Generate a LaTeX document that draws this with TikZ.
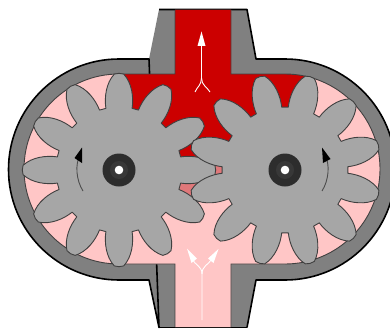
\documentclass[tikz,border=0pt]{standalone}
\definecolor{casinggray}{RGB}{128,128,128}
\definecolor{gearfill}{RGB}{166,166,166}
\definecolor{hotred}{RGB}{204,0,0}
\definecolor{lowpink}{RGB}{255,198,198}
\definecolor{midpink}{RGB}{224,120,122}
\definecolor{hubdark}{RGB}{45,45,45}
\definecolor{hubring}{RGB}{56,56,56}
\tikzset{
  casingedge/.style={draw=black,line width=1.6pt,line join=round},
  gearbody/.style={fill=gearfill,draw=black!75,line width=0.9pt,line join=round},
  spinline/.style={draw=black!70,line width=0.9pt},
  flowline/.style={draw=white,line width=0.9pt},
}
\newcommand{\gearat}[3]{% cx, cy, phase
  \begin{scope}[shift={(#1,#2)}]
    \path[gearbody] (#3-12:63)
      \foreach \t in {0,...,11}{
        .. controls ({#3+\t*30-11.5}:74) and ({#3+\t*30-8.5}:88) .. ({#3+\t*30-2.8}:96)
        .. controls ({#3+\t*30-1}:97) and ({#3+\t*30+1}:97) .. ({#3+\t*30+2.8}:96)
        .. controls ({#3+\t*30+8.5}:88) and ({#3+\t*30+11.5}:74) .. ({#3+\t*30+12}:63)
        -- ({#3+\t*30+18}:63)
      } -- cycle;
    \fill[hubdark] (0,0) circle (16.5);
    \fill[hubring] (0,0) circle (9);
    \fill[white] (0,0) circle (4.3);
  \end{scope}}
\begin{document}
\begin{tikzpicture}[x=1pt,y=-1pt]
\useasboundingbox (0,0) rectangle (390,329);
\clip (0,0) rectangle (390,329);
\fill[white] (0,0) rectangle (390,329);
% casing
\fill[casinggray] (159,9.5) -- (247,9.5) -- (256,59) -- (285,59) arc (-90:90:110.5) -- (256,280) -- (247,327.5) -- (159,327.5) -- (149,280) -- (119,280) arc (-270:-90:110.5) -- (149,59) -- cycle;
\draw[casingedge] (159,9.5) -- (247,9.5) -- (256,59) -- (285,59) arc (-90:90:110.5) -- (256,280) -- (247,327.5);
\draw[casingedge] (159,327.5) -- (149,280) -- (119,280) arc (-270:-90:110.5) -- (149,59) -- cycle;
\draw[black,line width=1.6pt] (159,327.5) -- (247,327.5);
% chamber
\begin{scope}
  \path[clip] (175,10) -- (231,10) -- (231,74) -- (285,74) arc (-90:90:95) -- (231,264) -- (231,327) -- (175,327) -- (175,264) -- (119,264) arc (-270:-90:95) -- (175,74) -- cycle;
  \fill[lowpink] (0,0) rectangle (390,329);
  \fill[hotred] (119,161) -- (119,70) -- (175,70) -- (175,5) -- (231,5) -- (231,70) -- (311,70) -- (285,161) -- cycle;
  \fill[midpink] (170,161) rectangle (240,196);
\end{scope}
\draw[black!75,line width=0.9pt] (175,10) -- (175,74) -- (119,74) arc (-90:-270:95) -- (175,264) -- (175,327);
\draw[black!75,line width=0.9pt] (231,10) -- (231,74) -- (285,74) arc (-90:90:95) -- (231,264) -- (231,327);
% gears
\gearat{119}{170}{0}
\gearat{285}{170}{15}
% rotation marks
\draw[spinline] (83,191) .. controls (76,180) and (75,164) .. (80,155);
\fill[black] (82,147.5) -- (74.5,158) -- (82,163) -- cycle;
\draw[spinline] (322,191) .. controls (329,180) and (330,164) .. (325,155);
\fill[black] (322,147.5) -- (330.5,159) -- (323,163) -- cycle;
% flow arrows, outlet
\draw[flowline] (201.5,45) -- (201.5,78) .. controls (201.5,85) and (197,87) .. (195,92);
\draw[flowline] (201.5,78) .. controls (201.5,85) and (207,87) .. (210,92);
\fill[white] (201.5,31.5) -- (205.5,46) -- (197.5,46) -- cycle;
% flow arrows, inlet
\draw[flowline] (202,320) -- (202,274) .. controls (202,266) and (195,265) .. (192,259);
\draw[flowline] (202,274) .. controls (202,266) and (208,265) .. (212,259);
\fill[white] (187,248.5) -- (197,258.5) -- (191.5,263) -- cycle;
\fill[white] (218.5,249) -- (208,258.5) -- (213.5,263) -- cycle;
\end{tikzpicture}
\end{document}
